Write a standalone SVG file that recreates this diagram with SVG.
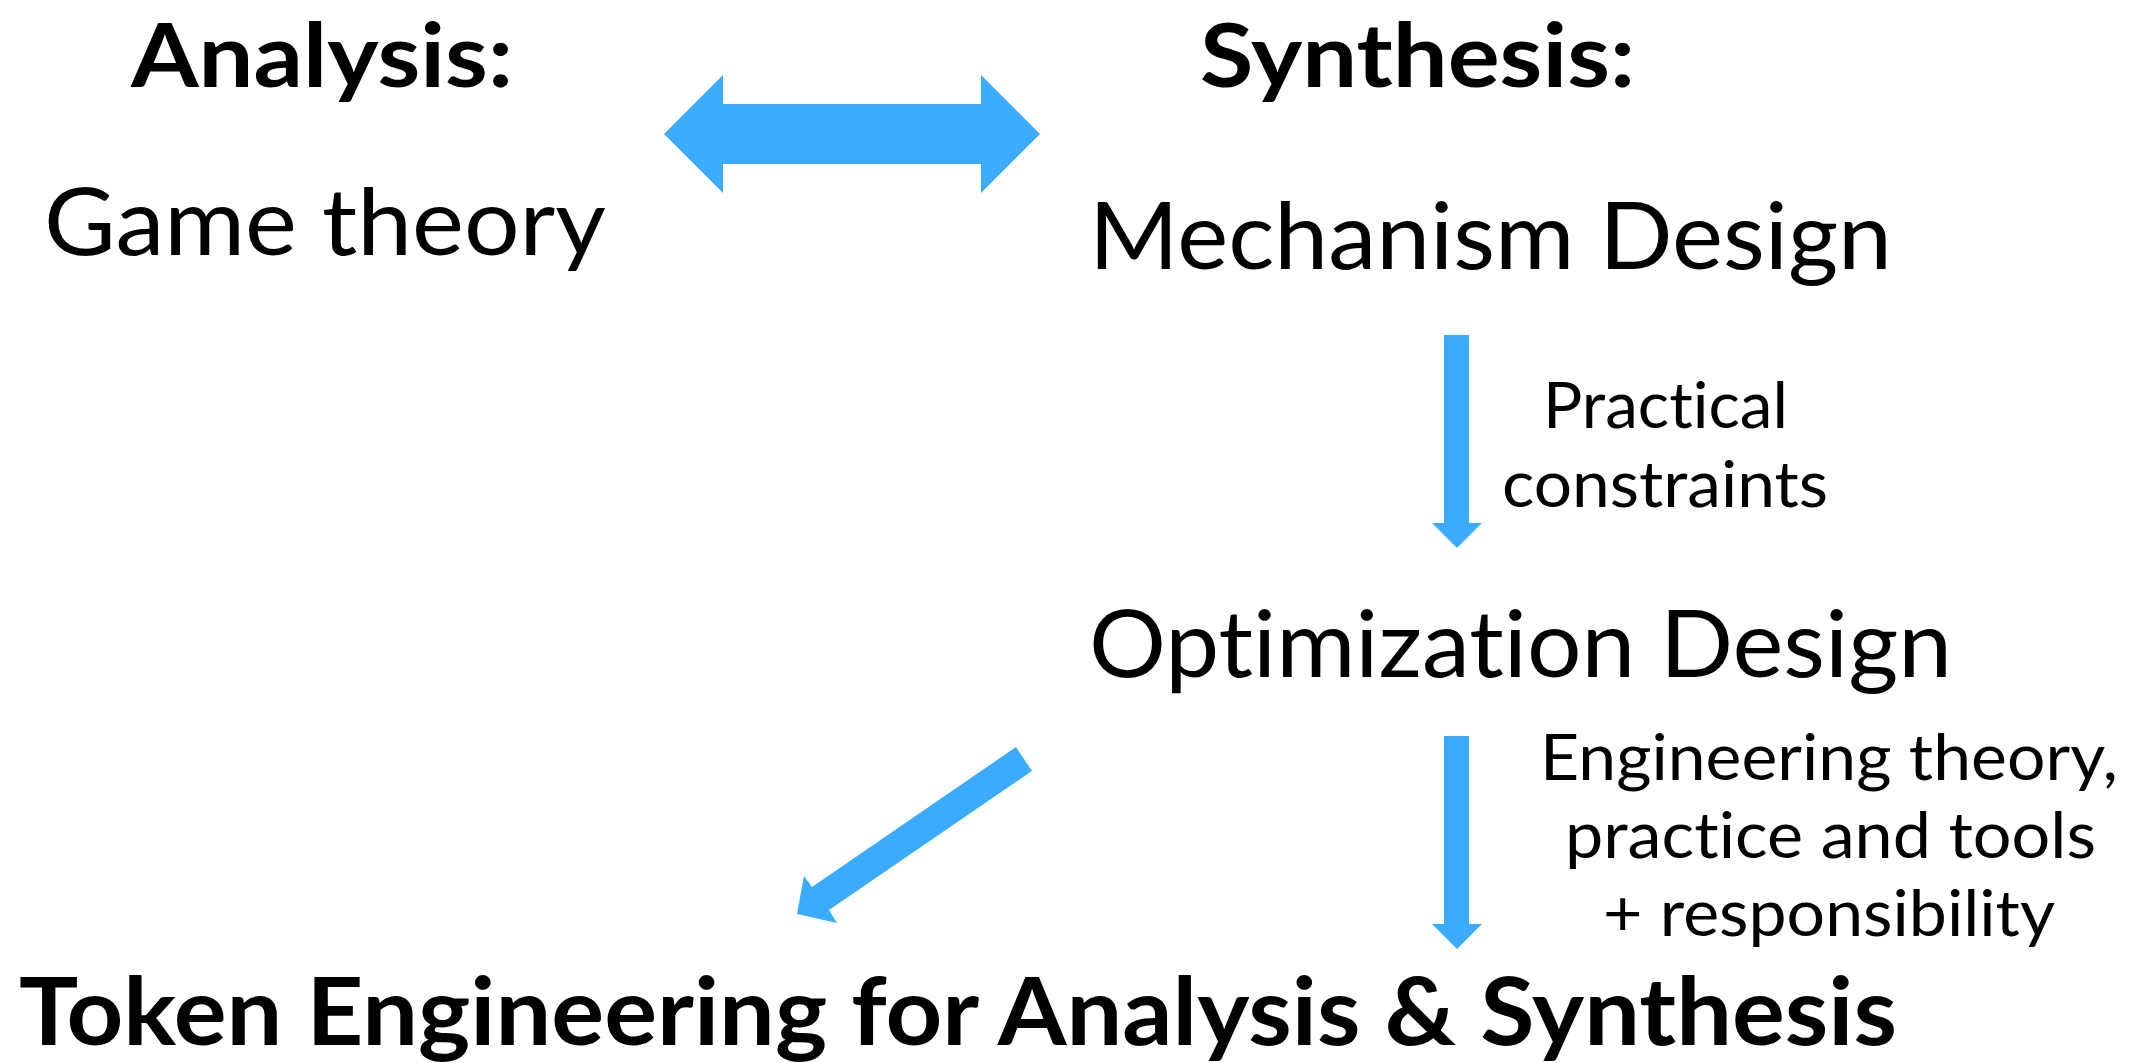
<svg xmlns="http://www.w3.org/2000/svg" width="2151" height="1063" viewBox="0 0 2151 1063">
  <style>
    .t { font-family: Lato, "Open Sans", sans-serif; fill: #000; font-variant-ligatures: none; font-feature-settings: "liga" 0, "dlig" 0, "clig" 0; }
    .big { font-size: 94px; }
    .head { font-size: 88px; font-weight: bold; }
    .bold { font-weight: bold; }
    .lbl { font-size: 63px; }
    .arrow { fill: #3AABFF; }
  </style>
  <rect x="0" y="0" width="2151" height="1063" fill="#ffffff"/>
  <g id="connectors">
    <polygon id="arrow-analysis-synthesis" class="arrow" points="664,134 723,75 723,104 981,104 981,75 1040,134 981,193 981,164 723,164 723,193"/>
    <polygon id="arrow-mechanism-optimization" class="arrow" points="1444,335 1469,335 1469,523 1482,523 1457,548 1432,523 1444,523"/>
    <polygon id="arrow-optimization-token-right" class="arrow" points="1444,736 1469,736 1469,924 1482,924 1457,949 1432,924 1444,924"/>
    <polygon id="arrow-optimization-token-left" class="arrow" points="1016,747 1032,771 829,910 837,923 797,914 804,876 812,887"/>
    <text class="t lbl" x="1543" y="428" textLength="245" lengthAdjust="spacingAndGlyphs">Practical</text>
    <text class="t lbl" x="1502" y="507" textLength="326" lengthAdjust="spacingAndGlyphs">constraints</text>
    <text class="t lbl" x="1540" y="780" textLength="578" lengthAdjust="spacingAndGlyphs">Engineering theory,</text>
    <text class="t lbl" x="1565" y="858" textLength="531" lengthAdjust="spacingAndGlyphs">practice and tools</text>
    <text class="t lbl" x="1603" y="936" textLength="452" lengthAdjust="spacingAndGlyphs">+ responsibility</text>
  </g>
  <g id="node-analysis">
    <text class="t head" x="131" y="87" textLength="382" lengthAdjust="spacingAndGlyphs">Analysis:</text>
    <text class="t big" x="44" y="255" textLength="562" lengthAdjust="spacingAndGlyphs">Game theory</text>
  </g>
  <g id="node-synthesis">
    <text class="t head" x="1200" y="87" textLength="435" lengthAdjust="spacingAndGlyphs">Synthesis:</text>
    <text class="t big" x="1089" y="269" textLength="803" lengthAdjust="spacingAndGlyphs">Mechanism Design</text>
  </g>
  <g id="node-optimization">
    <text class="t big" x="1089" y="677" textLength="863" lengthAdjust="spacingAndGlyphs">Optimization Design</text>
  </g>
  <g id="node-token-engineering">
    <text class="t big bold" x="19" y="1045" textLength="1878" lengthAdjust="spacingAndGlyphs">Token Engineering for Analysis &amp; Synthesis</text>
  </g>
</svg>
